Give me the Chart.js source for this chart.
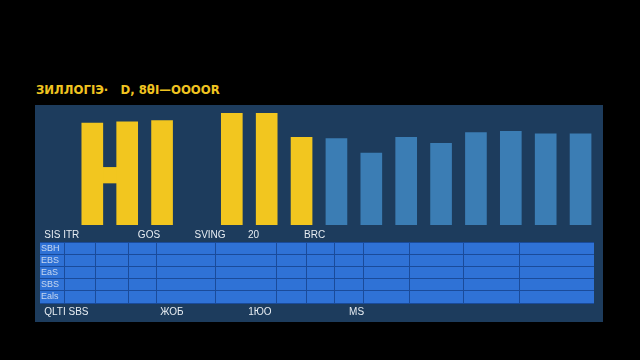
<!DOCTYPE html>
<html>
<head>
<meta charset="utf-8">
<script src="https://cdn.jsdelivr.net/npm/chart.js@4"></script>
<style>
  html, body { margin: 0; padding: 0; background: #000; }
  body { width: 640px; height: 360px; position: relative; overflow: hidden; font-family: "Liberation Sans", sans-serif; }
  #title { position: absolute; left: 36px; top: 82px; color: #f0c420; font: bold 13px "DejaVu Sans Condensed", sans-serif; white-space: pre; }
  #panel { position: absolute; left: 35px; top: 105px; width: 568px; height: 217px; background: #1d3c5d; }
  #top { position: absolute; left: 36px; top: 105px; }
  #table { position: absolute; left: 36px; top: 242px; }
</style>
</head>
<body>
<div id="title">ЗИЛЛОГІЭ·   D, 8θI—OOOOR</div>
<div id="panel"></div>
<canvas id="top" width="567" height="137"></canvas>
<canvas id="table" width="567" height="80"></canvas>
<script>
// top bars: 16 slots, null = no bar
const slots = ['s0','s1','s2','s3','s4','s5','s6','s7','s8','s9','s10','s11','s12','s13','s14','s15'];
const barValues = [null, 85, 86, 87, null, 93, 93, 73, 72, 60, 73, 68, 77, 78, 76, 76];
const barGroup  = [null, 'y', 'y', 'y', null, 'y', 'y', 'y', 'b', 'b', 'b', 'b', 'b', 'b', 'b', 'b'];
const crossbar = [35, 48];   // the bar joining the first two yellow bars

// label row under the bars, on a 64-slot label axis
const topLabels = ['SIS ITR', 'GOS', 'SVING', '20', 'BRC'];
const topLabelSlots = [2, 12, 19, 24, 31];

// table under the chart
const rowLabels = ['SBH', 'EBS', 'EaS', 'SBS', 'Eals'];
const colEdges = [0, 24, 56, 88, 116, 175, 237, 266, 294, 323, 369, 423, 479, 554];
const bottomLabels = ['QLTI SBS', 'ЖОБ', '1ЮО', 'MS'];
const bottomLabelSlots = [3, 15, 25, 36];

const yellow = '#f2c61f';
const blue = '#3b7db4';
const labelFont = { size: 10, family: 'Liberation Sans' };
const noPad = s => { s.paddingLeft = 0; s.paddingRight = 0; s.paddingTop = 0; s.paddingBottom = 0; };

function labelRow(texts, at) {
  const row = new Array(64).fill('');
  texts.forEach((t, i) => { row[at[i]] = t; });
  return row;
}

new Chart(document.getElementById('top'), {
  type: 'bar',
  data: {
    labels: slots,
    datasets: [{
      data: barValues,
      backgroundColor: barGroup.map(g => g === 'y' ? yellow : blue),
      barThickness: 21,
      grouped: false,
      xAxisID: 'x'
    }, {
      data: [{ x: 1.5, y: crossbar }],
      backgroundColor: yellow,
      barThickness: 18,
      grouped: false,
      xAxisID: 'x2'
    }]
  },
  options: {
    responsive: false,
    animation: false,
    layout: { padding: { left: 4, right: 5, top: 0, bottom: 0 } },
    plugins: { legend: { display: false }, tooltip: { enabled: false } },
    scales: {
      x: {
        display: true,
        grid: { display: false, drawTicks: false },
        border: { display: false },
        ticks: { display: false },
        afterFit: s => { s.height = 0; noPad(s); }
      },
      x2: {
        type: 'linear', display: false, offset: false, min: -0.5, max: 15.5
      },
      xl: {
        type: 'category',
        labels: labelRow(topLabels, topLabelSlots),
        position: 'bottom',
        grid: { display: false, drawTicks: false },
        border: { display: false },
        ticks: { color: '#e6ecf2', font: labelFont, autoSkip: false, maxRotation: 0, padding: 4 },
        afterFit: s => { s.height = 17; noPad(s); }
      },
      y: { display: false, min: 0, max: 100 }
    }
  }
});

new Chart(document.getElementById('table'), {
  type: 'bar',
  data: {
    labels: rowLabels,
    datasets: [{
      data: rowLabels.map(() => colEdges[colEdges.length - 1]),
      backgroundColor: '#2f72d6',
      barPercentage: 1,
      categoryPercentage: 1,
      borderWidth: 0
    }]
  },
  options: {
    indexAxis: 'y',
    responsive: false,
    animation: false,
    layout: { padding: { left: 4, right: 9, top: 0, bottom: 0 } },
    plugins: { legend: { display: false }, tooltip: { enabled: false } },
    scales: {
      x: {
        type: 'linear',
        min: 0, max: colEdges[colEdges.length - 1],
        grid: { color: '#1a4b9a', lineWidth: 1, drawTicks: false, z: 1 },
        border: { display: false },
        ticks: { display: false },
        afterBuildTicks: s => { s.ticks = colEdges.slice(1, -1).map(v => ({ value: v })); },
        afterFit: s => { s.height = 0; noPad(s); }
      },
      xl: {
        type: 'category',
        labels: labelRow(bottomLabels, bottomLabelSlots),
        position: 'bottom',
        grid: { display: false, drawTicks: false },
        border: { display: false },
        ticks: { color: '#e6ecf2', font: labelFont, autoSkip: false, maxRotation: 0, padding: 3 },
        afterFit: s => { s.height = 19; noPad(s); }
      },
      y: {
        grid: { color: '#1a4b9a', lineWidth: 1, offset: true, drawTicks: false, z: 1 },
        border: { display: false },
        ticks: { mirror: true, z: 1, autoSkipPadding: 0, color: '#c8d8f0', font: { size: 9, family: 'Liberation Sans' }, padding: 1 },
        afterFit: s => { s.width = 0; noPad(s); }
      }
    }
  }
});
</script>
</body>
</html>
